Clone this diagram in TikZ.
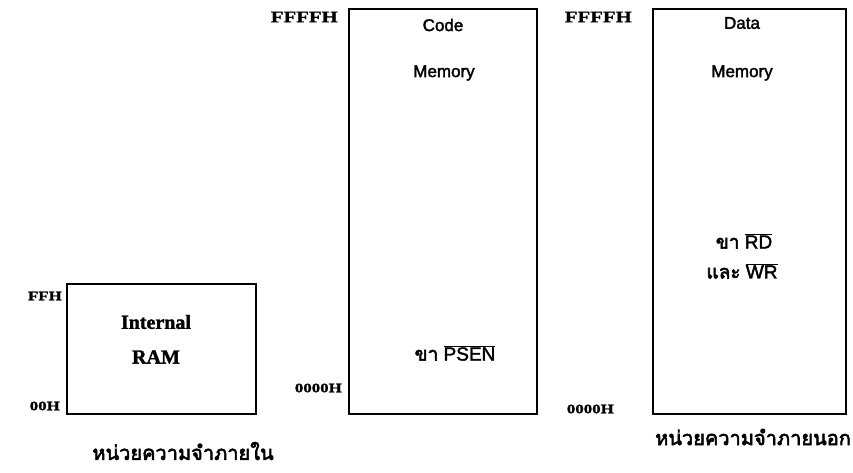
\documentclass[tikz,border=0pt]{standalone}
\usepackage{fontspec}
\setmainfont{Liberation Serif}
\setsansfont{Liberation Sans}
\newfontfamily\hexfont[FakeStretch=1.3,UprightFont={* Bold},FakeBold=1.5]{Liberation Serif}
\newfontfamily\lblfont[FakeBold=2]{Liberation Sans}
\newfontfamily\ramfont[UprightFont={* Bold},FakeBold=1.5]{Liberation Serif}
\newfontfamily\thaifont[Script=Thai,FakeBold=2.8]{Loma}
\newcommand{\ovl}[1]{\ensuremath{\overline{\hbox{#1}}}}
\begin{document}
\begin{tikzpicture}[x=1pt,y=-1pt,
  membox/.style={draw=black, line width=1.8pt, inner sep=0pt, anchor=north west},
  bighex/.style={font=\hexfont\fontsize{16}{18}\selectfont, anchor=east, inner sep=0pt},
  smallhex/.style={font=\hexfont\fontsize{13}{15}\selectfont, anchor=east, inner sep=0pt},
  sanslbl/.style={font=\lblfont\fontsize{17}{19}\selectfont, inner sep=0pt},
  pinlbl/.style={font=\lblfont\fontsize{19}{21}\selectfont, inner sep=0pt},
  seriflbl/.style={font=\ramfont\fontsize{20}{22}\selectfont, inner sep=0pt},
  thailbl/.style={font=\thaifont\fontsize{20}{24}\selectfont, inner sep=0pt}]
\fill[white] (0,0) rectangle (853,473);
\useasboundingbox (0,0) rectangle (853,473);

% memory blocks
\node (ram)  [membox, minimum width=189pt, minimum height=130pt] at (66,283) {};
\node (code) [membox, minimum width=188pt, minimum height=405pt] at (348,8) {};
\node (data) [membox, minimum width=193pt, minimum height=405pt] at (652,8) {};

% address limits
\node (ramtop)  [smallhex] at (62,296) {FFH};
\node (rambot)  [smallhex] at (60,406) {00H};
\node (codetop) [bighex]   at (338,17) {FFFFH};
\node (codebot) [smallhex] at (342,388) {0000H};
\node (datatop) [bighex]   at (632,17) {FFFFH};
\node (databot) [smallhex] at (614,409) {0000H};

% block contents
\node (raml1) [seriflbl] at (156,322) {Internal};
\node (raml2) [seriflbl] at (156,357) {RAM};
\node (codel1) [sanslbl] at (443,25) {Code};
\node (codel2) [sanslbl] at (444,73) {Memory};
\node (codepin) [pinlbl] at (455,353) {{\thaifont ขา} \ovl{PSEN}};
\node (datal1) [sanslbl] at (742,23) {Data};
\node (datal2) [sanslbl] at (742,73) {Memory};
\node (datapin1) [pinlbl] at (744,241) {{\thaifont ขา} \ovl{RD}};
\node (datapin2) [pinlbl] at (742,271) {{\thaifont และ} \ovl{WR}};

% captions
\node (intcap) [thailbl] at (183,451) {หน่วยความจำภายใน};
\node (extcap) [thailbl] at (753,437) {หน่วยความจำภายนอก};
\end{tikzpicture}
\end{document}
